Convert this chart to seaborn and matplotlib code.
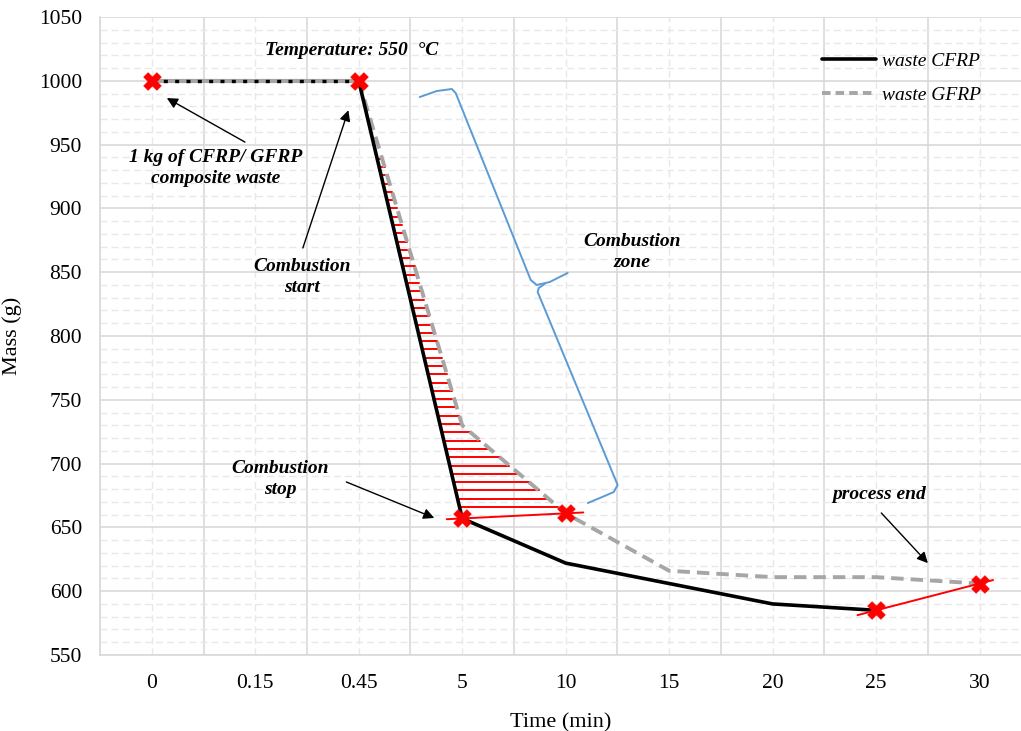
import numpy as np
import pandas as pd
import matplotlib
matplotlib.use("Agg")
import matplotlib.pyplot as plt
from matplotlib.lines import Line2D
from matplotlib.ticker import FixedLocator, MultipleLocator
import seaborn as sns

# ---- data ----
time_labels = ["0", "0.15", "0.45", "5", "10", "15", "20", "25", "30"]
cfrp = [1000, 1000, 1000, 657, 622, 606, 590, 585, np.nan]
gfrp = [1000, 1000, 1000, 730, 661, 616, 611, 611, 606]
series_names = ["waste CFRP", "waste GFRP"]
# key points marked with red crosses: (category index, series)
key_points = [(0, "cfrp"), (2, "cfrp"), (3, "cfrp"), (4, "gfrp"), (7, "cfrp"), (8, "gfrp")]

sns.set_theme(style="white")
plt.rcParams["font.family"] = ["Liberation Serif", "DejaVu Serif"]
plt.rcParams["text.color"] = "black"
plt.rcParams["axes.labelcolor"] = "black"
plt.rcParams["xtick.color"] = "black"
plt.rcParams["ytick.color"] = "black"

pos = np.arange(len(time_labels))
df = pd.DataFrame({"pos": pos, "cfrp": cfrp, "gfrp": gfrp})

fig = plt.figure(figsize=(10.21, 7.31), dpi=100)
ax = fig.add_axes([0.098, 0.104, 0.902, 0.8727])

BLACK = "black"
GRAY = "#a6a6a6"
RED = "#ff0000"
BLUE = "#5b9bd5"

# first plateau segment: gray under black dotted
sns.lineplot(data=df.iloc[:3], x="pos", y="gfrp", color=GRAY, lw=3.0, ax=ax, zorder=3)
sns.lineplot(data=df.iloc[:3], x="pos", y="cfrp", color=BLACK, lw=2.4, ax=ax, zorder=4,
             linestyle=(0, (1.2, 2.2)))
# main curves
sns.lineplot(data=df.iloc[2:], x="pos", y="gfrp", color=GRAY, lw=2.8, ax=ax, zorder=3,
             linestyle=(0, (3.2, 1.8)))
sns.lineplot(data=df.iloc[2:8], x="pos", y="cfrp", color=BLACK, lw=2.6, ax=ax, zorder=4)

# red hatching between curves in the combustion zone
c_idx = np.array([2.0, 3.0])
c_val = np.array([cfrp[2], cfrp[3]])
g_idx = np.array([2.0, 3.0, 4.0])
g_val = np.array([gfrp[2], gfrp[3], gfrp[4]])
levels = np.arange(666, 945, 6.5)
for yv in levels:
    x_left = np.interp(yv, c_val[::-1], c_idx[::-1])
    x_right = np.interp(yv, g_val[::-1], g_idx[::-1])
    ax.plot([x_left, x_right], [yv, yv], color=RED, lw=1.4, zorder=2)

# red connecting lines through key points
def ext_line(i0, y0, i1, y1, e0, e1):
    slope = (y1 - y0) / (i1 - i0)
    xs = np.array([i0 - e0, i1 + e1])
    ys = y0 + slope * (xs - i0)
    ax.plot(xs, ys, color=RED, lw=1.4, zorder=5)

ext_line(3, cfrp[3], 4, gfrp[4], 0.15, 0.17)
ext_line(7, cfrp[7], 8, gfrp[8], 0.18, 0.13)

# red cross markers
kx = [i for i, s in key_points]
ky = [cfrp[i] if s == "cfrp" else gfrp[i] for i, s in key_points]
sns.scatterplot(x=kx, y=ky, marker="X", s=160, color=RED, edgecolor=RED, linewidth=0.5,
                ax=ax, zorder=6)

# blue curly brace
brace_top = ([2.589, 2.754, 2.899, 2.937, 3.662, 3.720, 3.845, 4.019],
             [987.3, 992.0, 993.6, 990.4, 843.9, 840.0, 842.3, 849.4])
brace_bot = ([3.797, 3.739, 3.729, 4.502, 4.464, 4.329, 4.213],
             [840.8, 837.6, 834.5, 683.2, 677.7, 673.0, 669.1])
ax.plot(*brace_top, color=BLUE, lw=1.4, zorder=5, solid_joinstyle="round")
ax.plot(*brace_bot, color=BLUE, lw=1.4, zorder=5, solid_joinstyle="round")

# annotations
afont = dict(fontsize=14, fontweight="bold", fontstyle="italic", ha="center", va="center",
             color="black")
arrow = dict(arrowstyle="-|>", color="black", lw=1.0, mutation_scale=16, shrinkA=0, shrinkB=0)
ax.text(1.93, 1024, "Temperature: 550  °C", **afont)
ax.annotate("", xy=(0.145, 986.5), xytext=(0.90, 952.0), arrowprops=arrow)
ax.text(0.62, 931.5, "1 kg of CFRP/ GFRP\ncomposite waste", linespacing=1.3, **afont)
ax.annotate("", xy=(1.90, 977), xytext=(1.46, 869), arrowprops=arrow)
ax.text(1.45, 846, "Combustion\nstart", linespacing=1.3, **afont)
ax.annotate("", xy=(2.73, 657.4), xytext=(1.88, 685.6), arrowprops=arrow)
ax.text(1.24, 688, "Combustion\nstop", linespacing=1.3, **afont)
ax.text(4.64, 866, "Combustion\nzone", linespacing=1.3, **afont)
ax.annotate("", xy=(7.50, 622), xytext=(7.05, 661.3), arrowprops=arrow)
ax.text(7.03, 676, "process end", **afont)

# axes, ticks, grid
ax.set_xlim(-0.5, 8.40)
ax.set_ylim(550, 1050)
ax.xaxis.set_major_locator(FixedLocator(np.arange(-0.5, 9, 1.0)))
ax.xaxis.set_minor_locator(FixedLocator(pos))
ax.set_xticklabels([])
ax.set_xticks(pos, time_labels, minor=True)
ax.yaxis.set_major_locator(MultipleLocator(50))
ax.yaxis.set_minor_locator(MultipleLocator(10))
ax.tick_params(axis="both", which="both", length=0, colors="black")
ax.tick_params(axis="x", which="minor", labelsize=15.5, pad=14)
ax.tick_params(axis="y", which="major", labelsize=15.5, pad=13)
ax.grid(True, which="major", color="#d9d9d9", lw=1.2, zorder=0)
ax.grid(True, which="minor", color="#e8e8e8", lw=1.0, linestyle=(0, (5, 3)), zorder=0)
ax.set_axisbelow(True)
for side in ["top", "right"]:
    ax.spines[side].set_visible(False)
for side in ["left", "bottom"]:
    ax.spines[side].set_color("#d9d9d9")
    ax.spines[side].set_linewidth(1.2)

ax.set_xlabel("Time (min)", fontsize=16, labelpad=14, color="black")
ax.set_ylabel("Mass (g)", fontsize=16, labelpad=12, color="black")

handles = [Line2D([0], [0], color=BLACK, lw=2.6),
           Line2D([0], [0], color=GRAY, lw=2.8, linestyle=(0, (2.2, 1.3)))]
leg = ax.legend(handles, series_names, loc="upper left", bbox_to_anchor=(0.784, 0.945),
                frameon=False, borderaxespad=0, borderpad=0, handlelength=2.75,
                handletextpad=0.35, labelspacing=0.85,
                prop=dict(family="Liberation Serif", style="italic", size=14))
for t in leg.get_texts():
    t.set_color("black")

fig.savefig("out.png", dpi=100)
